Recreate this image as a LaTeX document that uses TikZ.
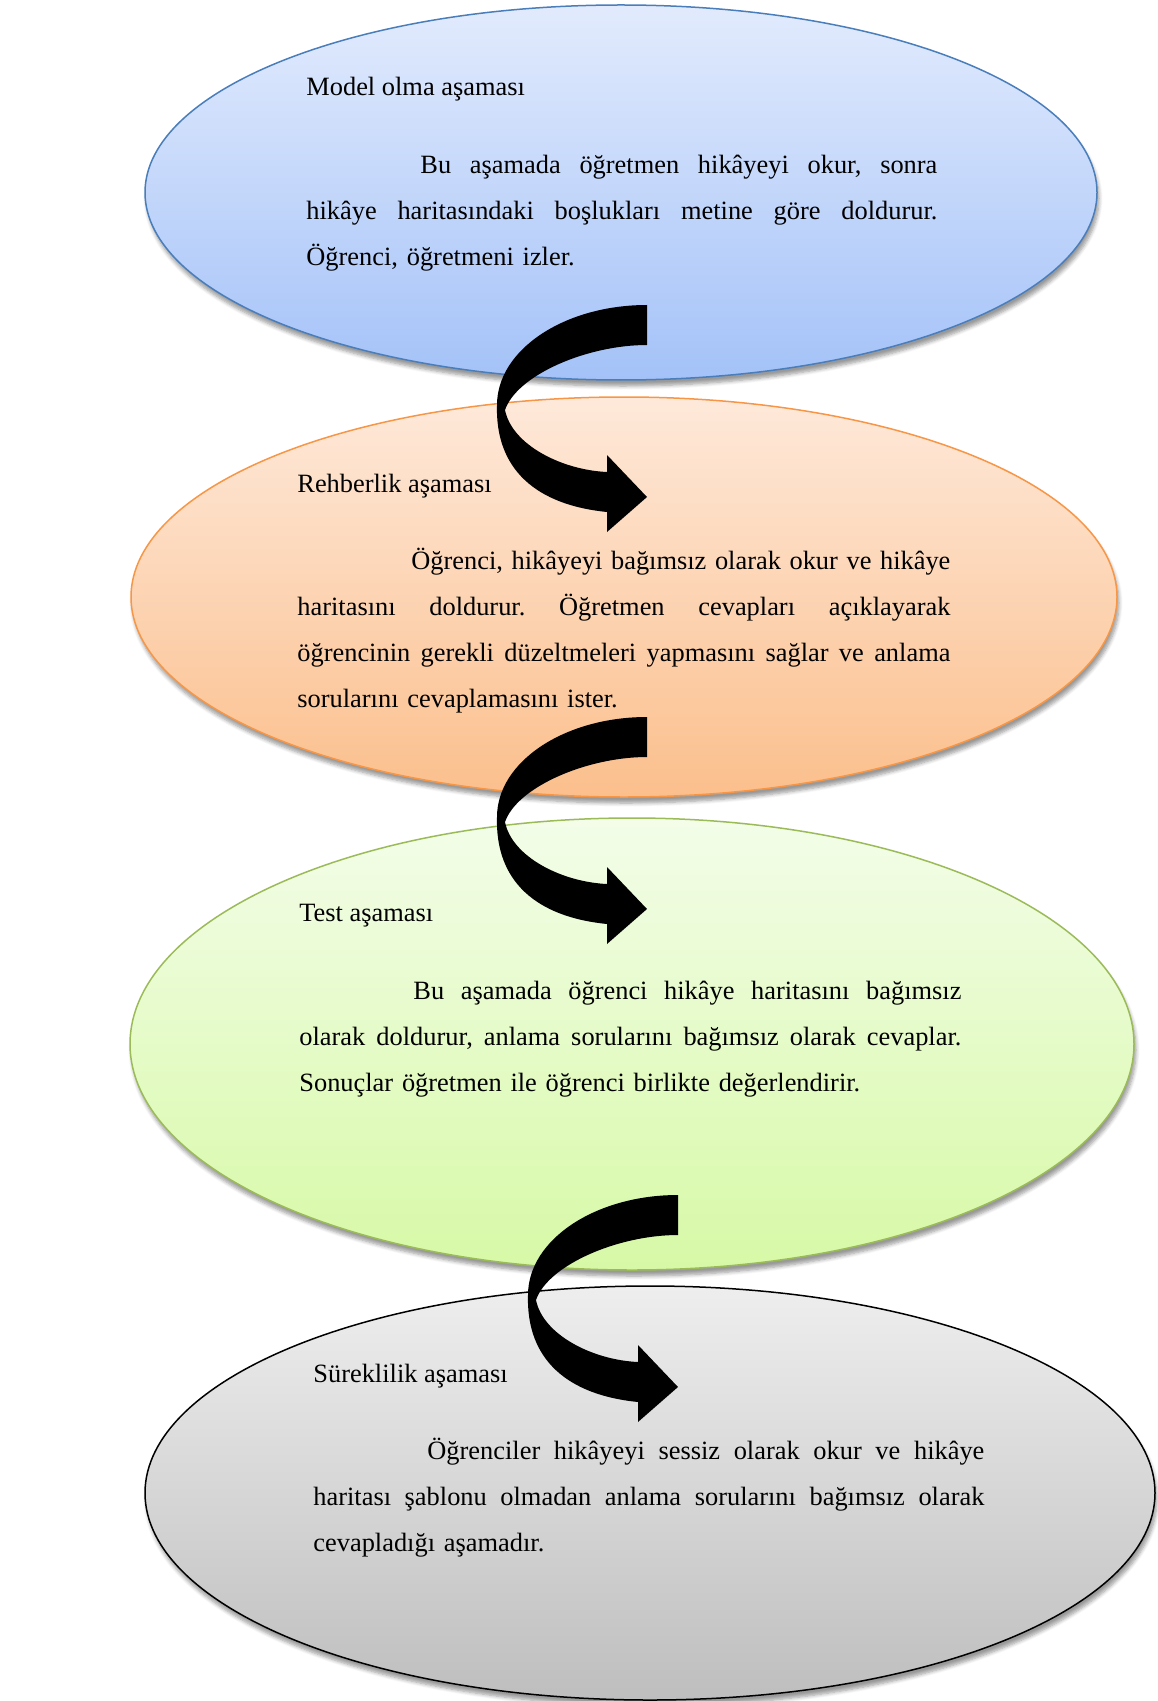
\documentclass[tikz,border=0pt]{standalone}
\usepackage{fontspec}
\setmainfont{Liberation Serif}
\usetikzlibrary{shapes.geometric,shadows.blur}

\definecolor{modeltop}{HTML}{E2EBFD}
\definecolor{modelbot}{HTML}{A4C2F8}
\definecolor{modelline}{HTML}{4A7EBB}
\definecolor{rehbertop}{HTML}{FEE9DA}
\definecolor{rehberbot}{HTML}{FBBF8C}
\definecolor{rehberline}{HTML}{F79646}
\definecolor{testtop}{HTML}{F3FDE9}
\definecolor{testbot}{HTML}{D7F9A6}
\definecolor{testline}{HTML}{9BBB59}
\definecolor{surektop}{HTML}{EEEEEE}
\definecolor{surekbot}{HTML}{BEBEBE}

\frenchspacing
\newlength{\phasewd}
\newcommand{\phasefont}{\fontsize{13.2}{23}\selectfont}
% one justified line of a paragraph
\newcommand{\fullline}[1]{\leavevmode\hbox to \phasewd{\spaceskip=0.25em plus 3em minus 0.05em #1}\\}
\newcommand{\firstline}[1]{\fullline{\hskip 57pt #1}}

\tikzset{
  phase/.style={ellipse, inner sep=0, line width=0.75pt,
    blur shadow={shadow xshift=1pt, shadow yshift=-3pt, shadow blur steps=6, shadow opacity=40}},
  phasetitle/.style={anchor=base west, inner sep=0, font=\phasefont},
  phasetext/.style={anchor=base west, inner sep=0, align=left, font=\phasefont,
    text width=#1, execute at begin node={\setlength{\phasewd}{#1}}},
  pics/bendarrow/.style={code={
    \fill[black, line join=round] (0,0) .. controls (-83,0) and (-150,45) .. (-150,100)
      .. controls (-152,165) and (-110,200) .. (-40,207) -- (-40,227) -- (0,192) -- (-40,150) -- (-40,167)
      .. controls (-85,165) and (-135,140) .. (-142,105) .. controls (-130,70) and (-60,40) .. (0,40) -- cycle;
  }}
}

\begin{document}
\begin{tikzpicture}[x=0.5pt,y=-0.5pt]
  \useasboundingbox (0,0) rectangle (1157,1701);

  \node[phase, draw=modelline, top color=modeltop, bottom color=modelbot,
    minimum width=476pt, minimum height=187.5pt] (model) at (621,192.5) {};
  \node[phase, draw=rehberline, top color=rehbertop, bottom color=rehberbot,
    minimum width=493pt, minimum height=200pt] (rehber) at (624,597) {};
  \node[phase, draw=testline, top color=testtop, bottom color=testbot,
    minimum width=502pt, minimum height=226pt] (test) at (632,1044) {};
  \node[phase, draw=black, top color=surektop, bottom color=surekbot,
    minimum width=505pt, minimum height=207pt] (surek) at (650,1493) {};

  \node[phasetitle] (modeltitle) at (306,96) {Model olma aşaması};
  \node[phasetext=315.5pt] (modeltext) at (306,174)
    {\firstline{Bu aşamada öğretmen hikâyeyi okur, sonra}
     \fullline{hikâye haritasındaki boşlukları metine göre doldurur.}
     Öğrenci, öğretmeni izler.};

  \node[phasetitle] (rehbertitle) at (297,492) {Rehberlik aşaması};
  \node[phasetext=326.5pt] (rehbertext) at (297,569)
    {\firstline{Öğrenci, hikâyeyi bağımsız olarak okur ve hikâye}
     \fullline{haritasını doldurur. Öğretmen cevapları açıklayarak}
     \fullline{öğrencinin gerekli düzeltmeleri yapmasını sağlar ve anlama}
     sorularını cevaplamasını ister.};

  \node[phasetitle] (testtitle) at (299,921) {Test aşaması};
  \node[phasetext=331pt] (testtext) at (299,999)
    {\firstline{Bu aşamada öğrenci hikâye haritasını bağımsız}
     \fullline{olarak doldurur, anlama sorularını bağımsız olarak cevaplar.}
     Sonuçlar öğretmen ile öğrenci birlikte değerlendirir.};

  \node[phasetitle] (surektitle) at (313,1382) {Süreklilik aşaması};
  \node[phasetext=335.5pt] (surektext) at (313,1459)
    {\firstline{Öğrenciler hikâyeyi sessiz olarak okur ve hikâye}
     \fullline{haritası şablonu olmadan anlama sorularını bağımsız olarak}
     cevapladığı aşamadır.};

  \coordinate (arrowone) at (647,305);
  \coordinate (arrowtwo) at (647,717);
  \coordinate (arrowthree) at (678,1195);
  \pic at (arrowone) {bendarrow};
  \pic at (arrowtwo) {bendarrow};
  \pic at (arrowthree) {bendarrow};
\end{tikzpicture}
\end{document}
